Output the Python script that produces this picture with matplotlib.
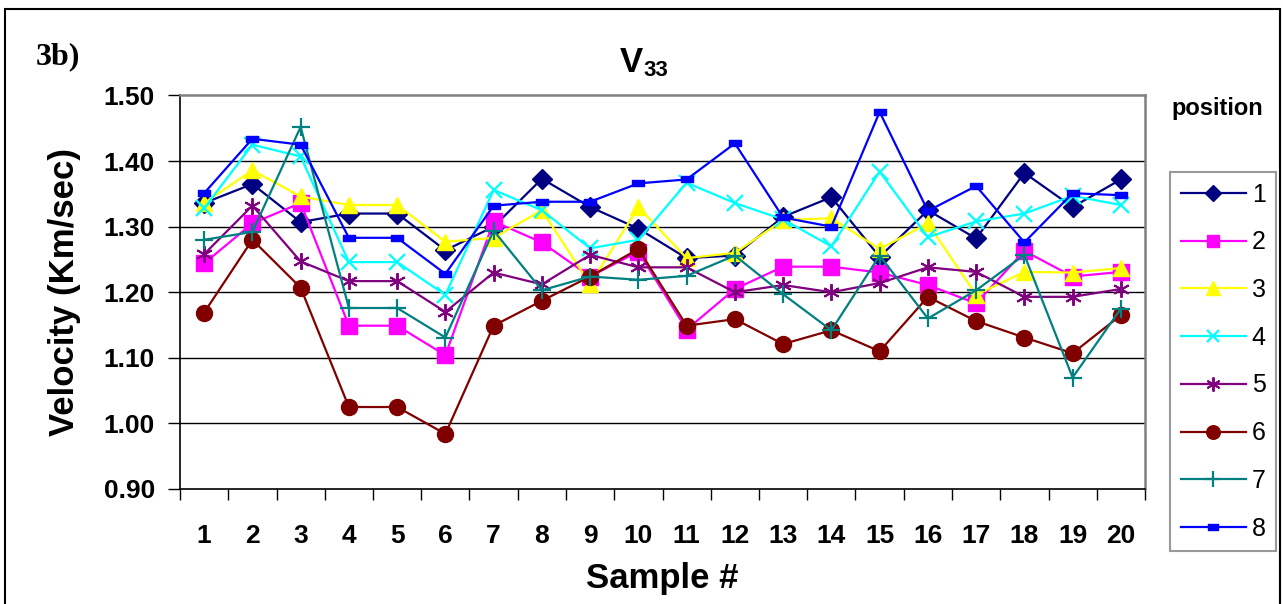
import numpy as np
import matplotlib
matplotlib.use('Agg')
import matplotlib.pyplot as plt
import matplotlib.patches as patches
from matplotlib.path import Path
from matplotlib.ticker import FixedLocator, FormatStrFormatter

plt.rcParams['font.family'] = 'Liberation Sans'

samples = np.arange(1, 21)
positions = ['1', '2', '3', '4', '5', '6', '7', '8']

pos1 = [1.336, 1.365, 1.307, 1.320, 1.320, 1.264, 1.300, 1.373, 1.330, 1.297,
        1.252, 1.256, 1.315, 1.345, 1.254, 1.325, 1.282, 1.382, 1.330, 1.372]
pos2 = [1.244, 1.305, 1.336, 1.149, 1.149, 1.104, 1.308, 1.276, 1.224, 1.262,
        1.143, 1.205, 1.239, 1.239, 1.230, 1.211, 1.183, 1.263, 1.224, 1.231]
pos3 = [1.336, 1.386, 1.346, 1.333, 1.333, 1.277, 1.283, 1.325, 1.212, 1.330,
        1.252, 1.260, 1.310, 1.313, 1.266, 1.305, 1.196, 1.231, 1.230, 1.237]
pos4 = [1.328, 1.425, 1.407, 1.246, 1.246, 1.196, 1.356, 1.325, 1.267, 1.280,
        1.367, 1.336, 1.311, 1.270, 1.384, 1.284, 1.308, 1.320, 1.347, 1.333]
pos5 = [1.258, 1.332, 1.247, 1.217, 1.217, 1.170, 1.230, 1.212, 1.257, 1.238,
        1.238, 1.200, 1.211, 1.200, 1.214, 1.238, 1.231, 1.193, 1.193, 1.205]
pos6 = [1.169, 1.280, 1.207, 1.025, 1.025, 0.984, 1.149, 1.187, 1.224, 1.266,
        1.149, 1.159, 1.121, 1.142, 1.110, 1.193, 1.156, 1.131, 1.107, 1.165]
pos7 = [1.280, 1.292, 1.452, 1.176, 1.176, 1.131, 1.294, 1.203, 1.224, 1.219,
        1.225, 1.256, 1.197, 1.142, 1.256, 1.160, 1.203, 1.257, 1.070, 1.175]
pos8 = [1.351, 1.434, 1.425, 1.283, 1.283, 1.228, 1.332, 1.338, 1.338, 1.366,
        1.372, 1.427, 1.314, 1.300, 1.475, 1.324, 1.362, 1.276, 1.351, 1.348]
series = [pos1, pos2, pos3, pos4, pos5, pos6, pos7, pos8]

# flat rectangle marker used for position 8
flat_rect = Path([(-1, -0.6), (1, -0.6), (1, 0.6), (-1, 0.6), (-1, -0.6)],
                 [Path.MOVETO, Path.LINETO, Path.LINETO, Path.LINETO, Path.CLOSEPOLY])
asterisk = (6, 2, 0)

styles = [
    dict(color='#000080', marker='D', ms=10),
    dict(color='#FF00FF', marker='s', ms=11),
    dict(color='#FFFF00', marker='^', ms=12),
    dict(color='#00FFFF', marker='x', ms=11, mew=1.6),
    dict(color='#800080', marker=asterisk, ms=12, mew=1.4),
    dict(color='#800000', marker='o', ms=11.5),
    dict(color='#008080', marker='+', ms=13, mew=1.6),
    dict(color='#0000FF', marker=flat_rect, ms=8),
]

fig = plt.figure(figsize=(12.83, 6.04), dpi=100)
ax = fig.add_axes([180 / 1283, 115 / 604, 965 / 1283, 393.5 / 604])

for vals, lab, st in zip(series, positions, styles):
    ax.plot(samples, vals, lw=1.6, label=lab, color=st['color'], marker=st['marker'],
            markersize=st['ms'], markeredgewidth=st.get('mew', 1.0),
            markerfacecolor=st['color'], markeredgecolor=st['color'])

ax.set_xlim(0.5, 20.5)
ax.set_ylim(0.90, 1.50)
ax.set_yticks(np.arange(0.9, 1.501, 0.1))
ax.yaxis.set_major_formatter(FormatStrFormatter('%.2f'))
ax.set_xticks(samples)
ax.xaxis.set_minor_locator(FixedLocator(np.arange(0.5, 21, 1.0)))

for y in np.arange(1.0, 1.45, 0.1):
    ax.axhline(y, color='black', lw=1.0, zorder=0.5)

for s in ['top', 'right']:
    ax.spines[s].set_color('#808080')
    ax.spines[s].set_linewidth(1.8)
for s in ['left', 'bottom']:
    ax.spines[s].set_color('black')
    ax.spines[s].set_linewidth(1.2)

ax.tick_params(axis='y', which='major', direction='out', length=9, width=1, pad=9,
               labelsize=19)
ax.tick_params(axis='x', which='major', length=0, pad=25, labelsize=19)
ax.tick_params(axis='x', which='minor', direction='out', length=8, width=1)
for lbl in ax.get_xticklabels() + ax.get_yticklabels():
    lbl.set_fontweight('bold')

ax.set_ylabel('Velocity (Km/sec)', fontsize=25, fontweight='bold', labelpad=16)
ax.set_xlabel('Sample #', fontsize=25, fontweight='bold', labelpad=10)

fig.text(620 / 1283, 1 - 72 / 604, 'V', fontsize=25, fontweight='bold',
         ha='left', va='baseline')
fig.text(643 / 1283, 1 - 76 / 604, '33', fontsize=16, fontweight='bold',
         ha='left', va='baseline')
fig.text(36 / 1283, 1 - 64 / 604, '3b)', fontsize=23, fontweight='bold',
         family='Liberation Serif', ha='left', va='baseline')
fig.text(1217 / 1283, 1 - 108 / 604, 'position', fontsize=17, fontweight='bold',
         ha='center', va='center')

leg = fig.legend(loc='upper left', bbox_to_anchor=(1170 / 1283, 1 - 172 / 604),
                 fontsize=18, frameon=True, fancybox=False, edgecolor='#808080',
                 handlelength=2.6, handletextpad=0.25, labelspacing=0.95,
                 borderpad=0.42, borderaxespad=0, markerscale=0.85)
leg.get_frame().set_linewidth(1.5)

border = patches.Rectangle((5 / 1283, -0.02), 1275 / 1283, 1.02 - 9 / 604,
                           transform=fig.transFigure, fill=False,
                           edgecolor='black', lw=1.5, clip_on=False)
fig.patches.append(border)

fig.savefig('out.png', dpi=100)
